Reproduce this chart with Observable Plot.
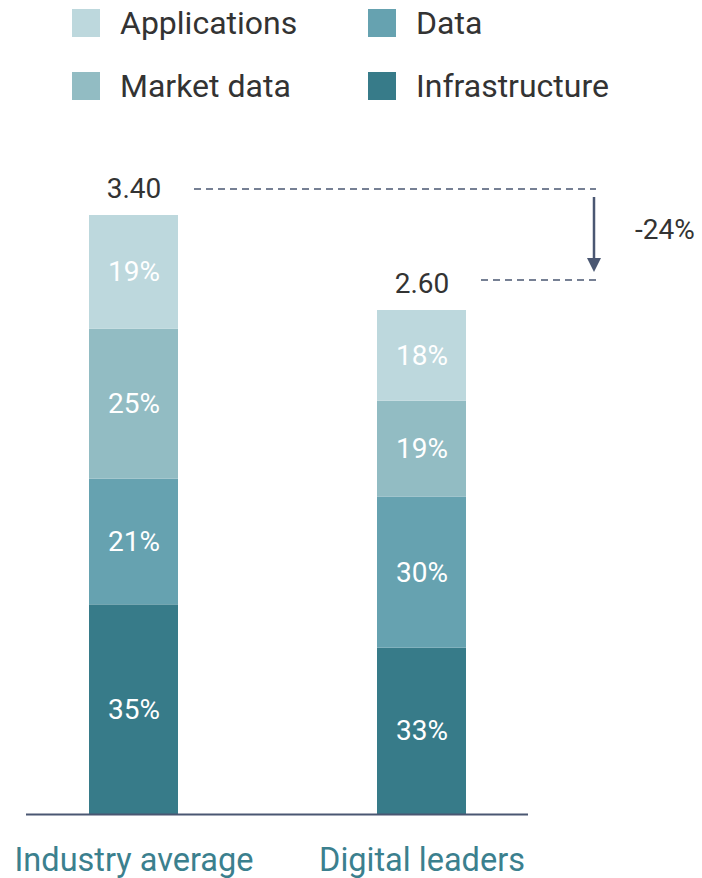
<!DOCTYPE html>
<html><head><meta charset="utf-8">
<script src="https://cdn.jsdelivr.net/npm/d3@7"></script>
<script src="https://cdn.jsdelivr.net/npm/@observablehq/plot@0.6"></script>
<style>
body{margin:0;background:#fff;font-family:Roboto,sans-serif;}
#legend{position:relative;height:130px;width:702px;}
.item{position:absolute;display:flex;align-items:center;height:28px;font-size:32px;color:#333;white-space:nowrap;}
.sw{width:28px;height:28px;margin-right:20px;flex:none;}
</style></head><body>
<div id="legend"></div><div id="chart"></div>
<script>
// ---- data ----
const categories = ["Industry average", "Digital leaders"];
const totals = [3.40, 2.60];
const components = ["Infrastructure", "Data", "Market data", "Applications"]; // bottom to top
const industryShares = [35, 21, 25, 19];
const leaderShares = [33, 30, 19, 18];
const legendOrder = ["Applications", "Data", "Market data", "Infrastructure"];
const componentColors = ["#377b89", "#66a2b0", "#92bcc3", "#bdd8dd"];

// ---- legend (HTML) ----
const legend = document.getElementById("legend");
const colorOf = c => componentColors[components.indexOf(c)];
legendOrder.forEach((c, i) => {
  const el = document.createElement("div");
  el.className = "item";
  el.style.left = (i % 2 === 0 ? 72 : 368) + "px";
  el.style.top = (i < 2 ? 9 : 72) + "px";
  el.innerHTML = `<span class="sw" style="background:${colorOf(c)}"></span><span>${c}</span>`;
  legend.appendChild(el);
});

// ---- chart ----
const base = -1.644; // y-scale floor, so the bar heights follow the drawing
const sharesList = [industryShares, leaderShares];
const rows = [];
categories.forEach((cat, i) => {
  let cum = 0;
  const t = totals[i];
  sharesList[i].forEach((s, j) => {
    rows.push({category: cat, component: components[j], share: s,
      y1: base + (t - base) * cum / 100, y2: base + (t - base) * (cum + s) / 100});
    cum += s;
  });
});
const totalRows = categories.map((c, i) => ({category: c, total: totals[i]}));
const ink = "#4a5772";

const chart = Plot.plot({
  width: 702, height: 748,
  marginTop: 85, marginBottom: 64, marginLeft: 26, marginRight: 174,
  style: {fontFamily: "Roboto, sans-serif", overflow: "visible", background: "white"},
  x: {domain: categories, paddingInner: 0.691, paddingOuter: 0.217, axis: null},
  y: {domain: [base, totals[0]], axis: null},
  color: {domain: components, range: componentColors},
  marks: [
    Plot.barY(rows, {x: "category", y1: "y1", y2: "y2", fill: "component"}),
    Plot.text(rows, {x: "category", y: d => (d.y1 + d.y2) / 2, text: d => d.share + "%",
      fill: "white", fontSize: 28}),
    Plot.text(totalRows, {x: "category", y: "total", text: d => d.total.toFixed(2),
      dy: -26, fontSize: 28, fill: "#333"}),
    Plot.ruleY([base], {stroke: ink, strokeWidth: 2}),
    Plot.text(categories, {x: d => d, y: () => base, text: d => d, dy: 46,
      fontSize: 32.5, fill: "#3b808e"})
  ]
});
document.getElementById("chart").appendChild(chart);

// ---- annotation: dashed guides, arrow, change label ----
const xs = chart.scale("x"), ys = chart.scale("y");
const bw = xs.bandwidth;
const svg = d3.select(chart);
const g = svg.append("g");
const yTop = ys.apply(totals[0]) - 26;
const yBot = ys.apply(totals[1]) - 30;
const xEnd = xs.apply(categories[1]) + bw + 130;
g.append("line").attr("x1", xs.apply(categories[0]) + bw + 16).attr("x2", xEnd)
  .attr("y1", yTop).attr("y2", yTop)
  .attr("stroke", ink).attr("stroke-width", 1.5).attr("stroke-dasharray", "7,5");
g.append("line").attr("x1", xs.apply(categories[1]) + bw + 15).attr("x2", xEnd)
  .attr("y1", yBot).attr("y2", yBot)
  .attr("stroke", ink).attr("stroke-width", 1.5).attr("stroke-dasharray", "7,5");
const ax = xEnd - 2;
g.append("line").attr("x1", ax).attr("x2", ax).attr("y1", yTop + 8).attr("y2", yBot - 20)
  .attr("stroke", ink).attr("stroke-width", 2.5);
g.append("path").attr("d", `M${ax - 7},${yBot - 22}L${ax + 7},${yBot - 22}L${ax},${yBot - 8}Z`)
  .attr("fill", ink);
const change = Math.round((totals[1] / totals[0] - 1) * 100);
g.append("text").attr("x", ax + 41).attr("y", (yTop + yBot) / 2 - 5).attr("dy", "0.35em")
  .attr("text-anchor", "start")
  .attr("font-size", 28).attr("fill", "#333").attr("font-family", "Roboto, sans-serif")
  .text(change + "%");
</script>
</body></html>
